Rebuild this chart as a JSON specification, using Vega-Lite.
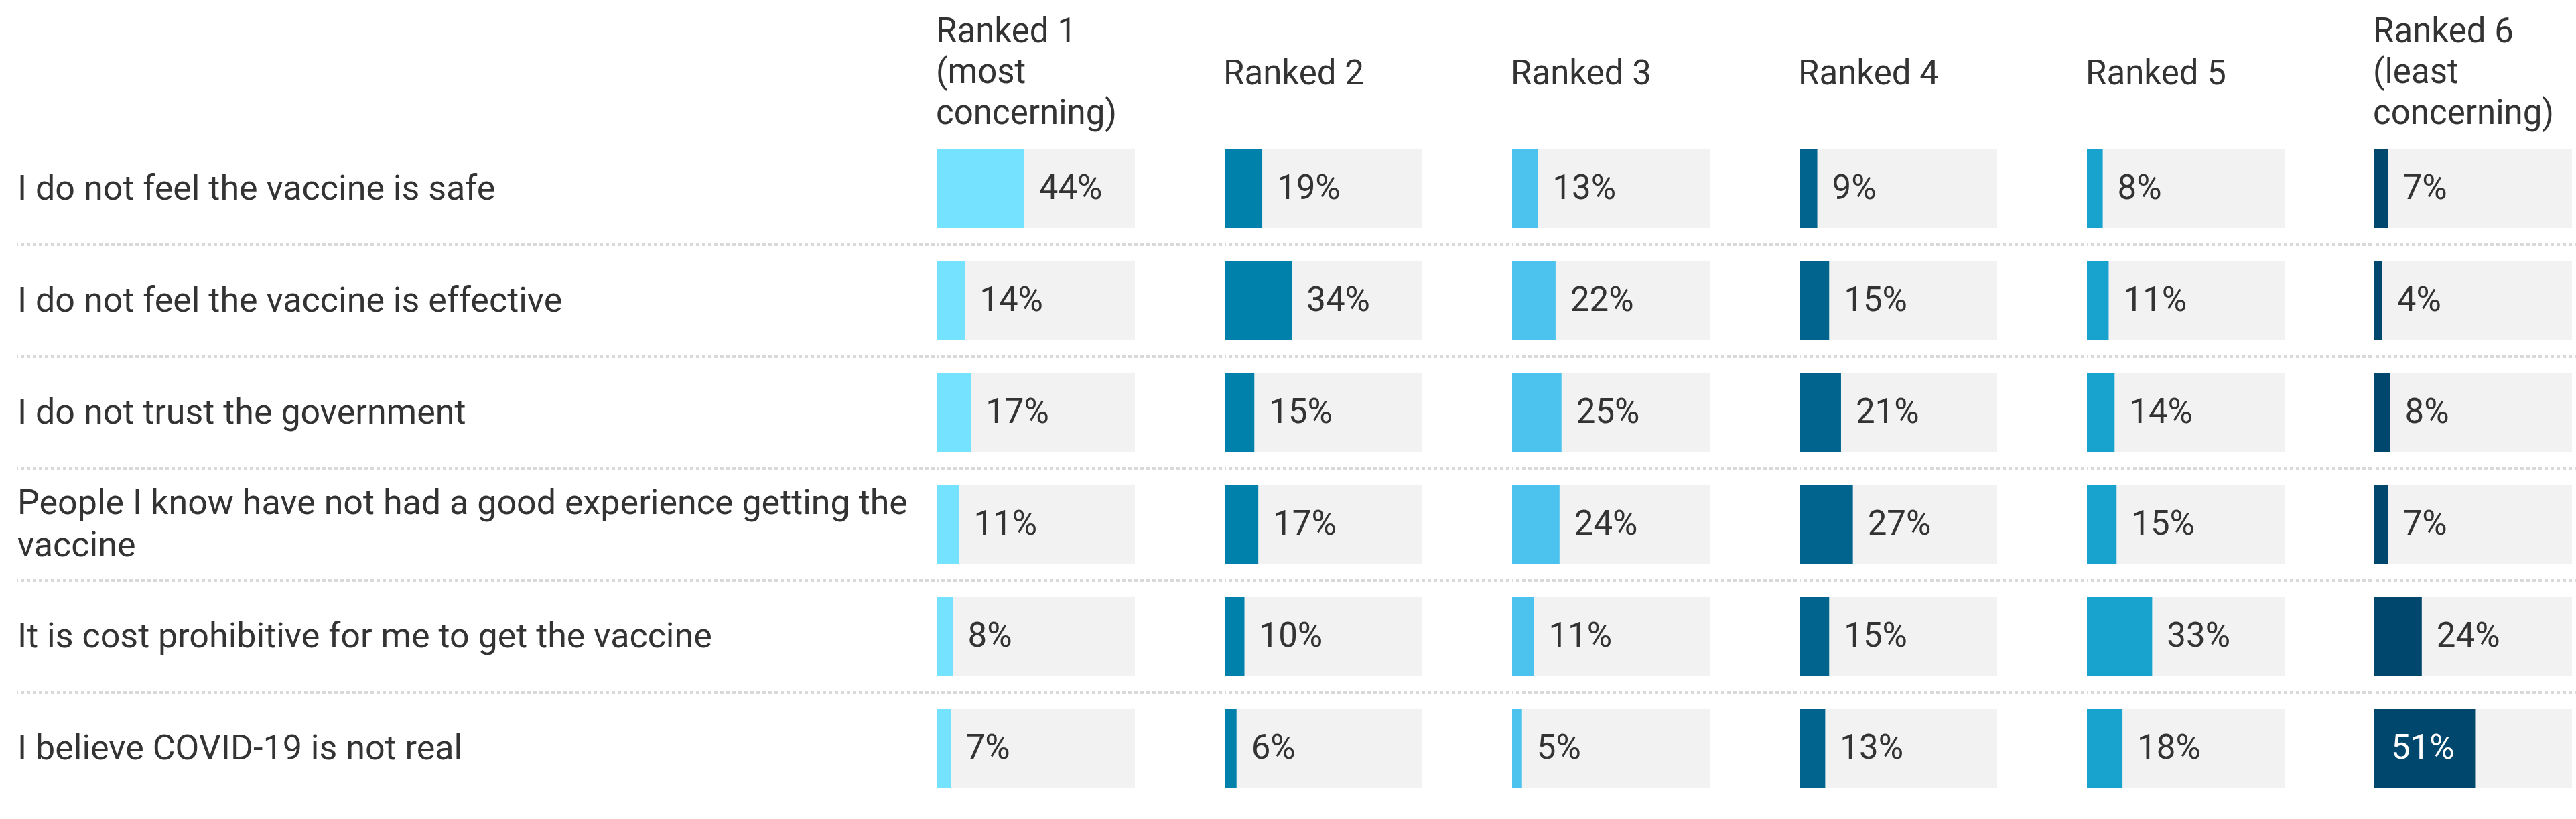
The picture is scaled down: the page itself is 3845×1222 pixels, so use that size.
{
  "$schema": "https://vega.github.io/schema/vega-lite/v6.json",
  "padding": {"left": 24, "top": 22, "right": 0, "bottom": 0},
  "background": "white",
  "spacing": 0,
  "datasets": {
    "d": [
      {"reason": "I do not feel the vaccine is safe", "rank": "Ranked 1", "value": 0.44},
      {"reason": "I do not feel the vaccine is safe", "rank": "Ranked 2", "value": 0.19},
      {"reason": "I do not feel the vaccine is safe", "rank": "Ranked 3", "value": 0.13},
      {"reason": "I do not feel the vaccine is safe", "rank": "Ranked 4", "value": 0.09},
      {"reason": "I do not feel the vaccine is safe", "rank": "Ranked 5", "value": 0.08},
      {"reason": "I do not feel the vaccine is safe", "rank": "Ranked 6", "value": 0.07},
      {"reason": "I do not feel the vaccine is effective", "rank": "Ranked 1", "value": 0.14},
      {"reason": "I do not feel the vaccine is effective", "rank": "Ranked 2", "value": 0.34},
      {"reason": "I do not feel the vaccine is effective", "rank": "Ranked 3", "value": 0.22},
      {"reason": "I do not feel the vaccine is effective", "rank": "Ranked 4", "value": 0.15},
      {"reason": "I do not feel the vaccine is effective", "rank": "Ranked 5", "value": 0.11},
      {"reason": "I do not feel the vaccine is effective", "rank": "Ranked 6", "value": 0.04},
      {"reason": "I do not trust the government", "rank": "Ranked 1", "value": 0.17},
      {"reason": "I do not trust the government", "rank": "Ranked 2", "value": 0.15},
      {"reason": "I do not trust the government", "rank": "Ranked 3", "value": 0.25},
      {"reason": "I do not trust the government", "rank": "Ranked 4", "value": 0.21},
      {"reason": "I do not trust the government", "rank": "Ranked 5", "value": 0.14},
      {"reason": "I do not trust the government", "rank": "Ranked 6", "value": 0.08},
      {"reason": "People I know have not had a good experience getting the\nvaccine", "rank": "Ranked 1", "value": 0.11},
      {"reason": "People I know have not had a good experience getting the\nvaccine", "rank": "Ranked 2", "value": 0.17},
      {"reason": "People I know have not had a good experience getting the\nvaccine", "rank": "Ranked 3", "value": 0.24},
      {"reason": "People I know have not had a good experience getting the\nvaccine", "rank": "Ranked 4", "value": 0.27},
      {"reason": "People I know have not had a good experience getting the\nvaccine", "rank": "Ranked 5", "value": 0.15},
      {"reason": "People I know have not had a good experience getting the\nvaccine", "rank": "Ranked 6", "value": 0.07},
      {"reason": "It is cost prohibitive for me to get the vaccine", "rank": "Ranked 1", "value": 0.08},
      {"reason": "It is cost prohibitive for me to get the vaccine", "rank": "Ranked 2", "value": 0.10},
      {"reason": "It is cost prohibitive for me to get the vaccine", "rank": "Ranked 3", "value": 0.11},
      {"reason": "It is cost prohibitive for me to get the vaccine", "rank": "Ranked 4", "value": 0.15},
      {"reason": "It is cost prohibitive for me to get the vaccine", "rank": "Ranked 5", "value": 0.33},
      {"reason": "It is cost prohibitive for me to get the vaccine", "rank": "Ranked 6", "value": 0.24},
      {"reason": "I believe COVID-19 is not real", "rank": "Ranked 1", "value": 0.07},
      {"reason": "I believe COVID-19 is not real", "rank": "Ranked 2", "value": 0.06},
      {"reason": "I believe COVID-19 is not real", "rank": "Ranked 3", "value": 0.05},
      {"reason": "I believe COVID-19 is not real", "rank": "Ranked 4", "value": 0.13},
      {"reason": "I believe COVID-19 is not real", "rank": "Ranked 5", "value": 0.18},
      {"reason": "I believe COVID-19 is not real", "rank": "Ranked 6", "value": 0.51}
    ]
  },
  "hconcat": [
    {
      "width": 1369, "height": 1002,
      "data": {"name": "d"},
      "transform": [{"filter": "datum.rank === 'Ranked 1'"}],
      "encoding": {"y": {"field": "reason", "type": "nominal", "axis": null, "scale": {"domain": ["I do not feel the vaccine is safe", "I do not feel the vaccine is effective", "I do not trust the government", "People I know have not had a good experience getting the\nvaccine", "It is cost prohibitive for me to get the vaccine", "I believe COVID-19 is not real"], "paddingInner": 0, "paddingOuter": 0}}},
      "layer": [
        {"mark": {"type": "rule", "color": "#d9d9d9", "strokeWidth": 4, "strokeDash": [5, 4]},
         "transform": [{"filter": "datum.reason !== 'I do not feel the vaccine is safe'"}],
         "encoding": {"y": {"field": "reason", "type": "nominal", "bandPosition": 0, "axis": null}}},
        {"mark": {"type": "text", "align": "left", "baseline": "middle", "fontSize": 52, "color": "#333333"},
         "transform": [{"filter": "datum.reason.length < 55"}],
         "encoding": {"x": {"datum": 0, "type": "quantitative", "scale": {"domain": [0, 1], "nice": false}, "axis": null}, "text": {"field": "reason"}}},
        {"mark": {"type": "text", "align": "left", "baseline": "middle", "fontSize": 52, "color": "#333333", "lineBreak": "\n", "lineHeight": 63, "dy": -31.5},
         "transform": [{"filter": "datum.reason.length >= 55"}],
         "encoding": {"x": {"datum": 0, "type": "quantitative"}, "text": {"field": "reason"}}}
      ]
    },
    {
      "width": 425, "height": 1002,
      "title": {"text": ["Ranked 1", "(most", "concerning)"], "offset": 2},
      "data": {"name": "d"},
      "transform": [{"filter": "datum.rank === 'Ranked 1'"}],
      "encoding": {"y": {"field": "reason", "type": "nominal", "axis": null, "scale": {"domain": ["I do not feel the vaccine is safe", "I do not feel the vaccine is effective", "I do not trust the government", "People I know have not had a good experience getting the\nvaccine", "It is cost prohibitive for me to get the vaccine", "I believe COVID-19 is not real"], "paddingInner": 0, "paddingOuter": 0}}},
      "layer": [
        {"mark": {"type": "rule", "color": "#d9d9d9", "strokeWidth": 4, "strokeDash": [5, 4]},
         "transform": [{"filter": "datum.reason !== 'I do not feel the vaccine is safe'"}],
         "encoding": {"y": {"field": "reason", "type": "nominal", "bandPosition": 0, "axis": null}}},
        {"mark": {"type": "bar", "color": "#f2f2f2", "height": {"band": 0.7}},
         "encoding": {"x": {"datum": 0, "type": "quantitative", "scale": {"domain": [0, 1.4407], "nice": false}, "axis": null}, "x2": {"datum": 1}}},
        {"mark": {"type": "bar", "height": {"band": 0.7}},
         "encoding": {"x": {"field": "value", "type": "quantitative"}, "x2": {"datum": 0},
           "color": {"field": "rank", "type": "nominal", "legend": null, "scale": {"domain": ["Ranked 1", "Ranked 2", "Ranked 3", "Ranked 4", "Ranked 5", "Ranked 6"], "range": ["#75e2ff", "#0081ab", "#4cc3ee", "#00648e", "#18a3cf", "#00476d"]}}}},
        {"mark": {"type": "text", "align": "left", "baseline": "middle", "dx": 22, "fontSize": 51, "color": "#333333"},
         "transform": [{"filter": "datum.value < 0.5"}],
         "encoding": {"x": {"field": "value", "type": "quantitative"}, "text": {"field": "value", "type": "quantitative", "format": ".0%"}}},
        {"mark": {"type": "text", "align": "left", "baseline": "middle", "dx": 25, "fontSize": 51, "color": "#ffffff"},
         "transform": [{"filter": "datum.value >= 0.5"}],
         "encoding": {"x": {"datum": 0, "type": "quantitative"}, "text": {"field": "value", "type": "quantitative", "format": ".0%"}}}
      ]
    },
    {
      "width": 425, "height": 1002,
      "title": {"text": ["Ranked 2"], "offset": 61},
      "data": {"name": "d"},
      "transform": [{"filter": "datum.rank === 'Ranked 2'"}],
      "encoding": {"y": {"field": "reason", "type": "nominal", "axis": null, "scale": {"domain": ["I do not feel the vaccine is safe", "I do not feel the vaccine is effective", "I do not trust the government", "People I know have not had a good experience getting the\nvaccine", "It is cost prohibitive for me to get the vaccine", "I believe COVID-19 is not real"], "paddingInner": 0, "paddingOuter": 0}}},
      "layer": [
        {"mark": {"type": "rule", "color": "#d9d9d9", "strokeWidth": 4, "strokeDash": [5, 4]},
         "transform": [{"filter": "datum.reason !== 'I do not feel the vaccine is safe'"}],
         "encoding": {"y": {"field": "reason", "type": "nominal", "bandPosition": 0, "axis": null}}},
        {"mark": {"type": "bar", "color": "#f2f2f2", "height": {"band": 0.7}},
         "encoding": {"x": {"datum": 0, "type": "quantitative", "scale": {"domain": [0, 1.4407], "nice": false}, "axis": null}, "x2": {"datum": 1}}},
        {"mark": {"type": "bar", "height": {"band": 0.7}},
         "encoding": {"x": {"field": "value", "type": "quantitative"}, "x2": {"datum": 0},
           "color": {"field": "rank", "type": "nominal", "legend": null}}},
        {"mark": {"type": "text", "align": "left", "baseline": "middle", "dx": 22, "fontSize": 51, "color": "#333333"},
         "transform": [{"filter": "datum.value < 0.5"}],
         "encoding": {"x": {"field": "value", "type": "quantitative"}, "text": {"field": "value", "type": "quantitative", "format": ".0%"}}},
        {"mark": {"type": "text", "align": "left", "baseline": "middle", "dx": 25, "fontSize": 51, "color": "#ffffff"},
         "transform": [{"filter": "datum.value >= 0.5"}],
         "encoding": {"x": {"datum": 0, "type": "quantitative"}, "text": {"field": "value", "type": "quantitative", "format": ".0%"}}}
      ]
    },
    {
      "width": 425, "height": 1002,
      "title": {"text": ["Ranked 3"], "offset": 61},
      "data": {"name": "d"},
      "transform": [{"filter": "datum.rank === 'Ranked 3'"}],
      "encoding": {"y": {"field": "reason", "type": "nominal", "axis": null, "scale": {"domain": ["I do not feel the vaccine is safe", "I do not feel the vaccine is effective", "I do not trust the government", "People I know have not had a good experience getting the\nvaccine", "It is cost prohibitive for me to get the vaccine", "I believe COVID-19 is not real"], "paddingInner": 0, "paddingOuter": 0}}},
      "layer": [
        {"mark": {"type": "rule", "color": "#d9d9d9", "strokeWidth": 4, "strokeDash": [5, 4]},
         "transform": [{"filter": "datum.reason !== 'I do not feel the vaccine is safe'"}],
         "encoding": {"y": {"field": "reason", "type": "nominal", "bandPosition": 0, "axis": null}}},
        {"mark": {"type": "bar", "color": "#f2f2f2", "height": {"band": 0.7}},
         "encoding": {"x": {"datum": 0, "type": "quantitative", "scale": {"domain": [0, 1.4407], "nice": false}, "axis": null}, "x2": {"datum": 1}}},
        {"mark": {"type": "bar", "height": {"band": 0.7}},
         "encoding": {"x": {"field": "value", "type": "quantitative"}, "x2": {"datum": 0},
           "color": {"field": "rank", "type": "nominal", "legend": null}}},
        {"mark": {"type": "text", "align": "left", "baseline": "middle", "dx": 22, "fontSize": 51, "color": "#333333"},
         "transform": [{"filter": "datum.value < 0.5"}],
         "encoding": {"x": {"field": "value", "type": "quantitative"}, "text": {"field": "value", "type": "quantitative", "format": ".0%"}}},
        {"mark": {"type": "text", "align": "left", "baseline": "middle", "dx": 25, "fontSize": 51, "color": "#ffffff"},
         "transform": [{"filter": "datum.value >= 0.5"}],
         "encoding": {"x": {"datum": 0, "type": "quantitative"}, "text": {"field": "value", "type": "quantitative", "format": ".0%"}}}
      ]
    },
    {
      "width": 425, "height": 1002,
      "title": {"text": ["Ranked 4"], "offset": 61},
      "data": {"name": "d"},
      "transform": [{"filter": "datum.rank === 'Ranked 4'"}],
      "encoding": {"y": {"field": "reason", "type": "nominal", "axis": null, "scale": {"domain": ["I do not feel the vaccine is safe", "I do not feel the vaccine is effective", "I do not trust the government", "People I know have not had a good experience getting the\nvaccine", "It is cost prohibitive for me to get the vaccine", "I believe COVID-19 is not real"], "paddingInner": 0, "paddingOuter": 0}}},
      "layer": [
        {"mark": {"type": "rule", "color": "#d9d9d9", "strokeWidth": 4, "strokeDash": [5, 4]},
         "transform": [{"filter": "datum.reason !== 'I do not feel the vaccine is safe'"}],
         "encoding": {"y": {"field": "reason", "type": "nominal", "bandPosition": 0, "axis": null}}},
        {"mark": {"type": "bar", "color": "#f2f2f2", "height": {"band": 0.7}},
         "encoding": {"x": {"datum": 0, "type": "quantitative", "scale": {"domain": [0, 1.4407], "nice": false}, "axis": null}, "x2": {"datum": 1}}},
        {"mark": {"type": "bar", "height": {"band": 0.7}},
         "encoding": {"x": {"field": "value", "type": "quantitative"}, "x2": {"datum": 0},
           "color": {"field": "rank", "type": "nominal", "legend": null}}},
        {"mark": {"type": "text", "align": "left", "baseline": "middle", "dx": 22, "fontSize": 51, "color": "#333333"},
         "transform": [{"filter": "datum.value < 0.5"}],
         "encoding": {"x": {"field": "value", "type": "quantitative"}, "text": {"field": "value", "type": "quantitative", "format": ".0%"}}},
        {"mark": {"type": "text", "align": "left", "baseline": "middle", "dx": 25, "fontSize": 51, "color": "#ffffff"},
         "transform": [{"filter": "datum.value >= 0.5"}],
         "encoding": {"x": {"datum": 0, "type": "quantitative"}, "text": {"field": "value", "type": "quantitative", "format": ".0%"}}}
      ]
    },
    {
      "width": 425, "height": 1002,
      "title": {"text": ["Ranked 5"], "offset": 61},
      "data": {"name": "d"},
      "transform": [{"filter": "datum.rank === 'Ranked 5'"}],
      "encoding": {"y": {"field": "reason", "type": "nominal", "axis": null, "scale": {"domain": ["I do not feel the vaccine is safe", "I do not feel the vaccine is effective", "I do not trust the government", "People I know have not had a good experience getting the\nvaccine", "It is cost prohibitive for me to get the vaccine", "I believe COVID-19 is not real"], "paddingInner": 0, "paddingOuter": 0}}},
      "layer": [
        {"mark": {"type": "rule", "color": "#d9d9d9", "strokeWidth": 4, "strokeDash": [5, 4]},
         "transform": [{"filter": "datum.reason !== 'I do not feel the vaccine is safe'"}],
         "encoding": {"y": {"field": "reason", "type": "nominal", "bandPosition": 0, "axis": null}}},
        {"mark": {"type": "bar", "color": "#f2f2f2", "height": {"band": 0.7}},
         "encoding": {"x": {"datum": 0, "type": "quantitative", "scale": {"domain": [0, 1.4407], "nice": false}, "axis": null}, "x2": {"datum": 1}}},
        {"mark": {"type": "bar", "height": {"band": 0.7}},
         "encoding": {"x": {"field": "value", "type": "quantitative"}, "x2": {"datum": 0},
           "color": {"field": "rank", "type": "nominal", "legend": null}}},
        {"mark": {"type": "text", "align": "left", "baseline": "middle", "dx": 22, "fontSize": 51, "color": "#333333"},
         "transform": [{"filter": "datum.value < 0.5"}],
         "encoding": {"x": {"field": "value", "type": "quantitative"}, "text": {"field": "value", "type": "quantitative", "format": ".0%"}}},
        {"mark": {"type": "text", "align": "left", "baseline": "middle", "dx": 25, "fontSize": 51, "color": "#ffffff"},
         "transform": [{"filter": "datum.value >= 0.5"}],
         "encoding": {"x": {"datum": 0, "type": "quantitative"}, "text": {"field": "value", "type": "quantitative", "format": ".0%"}}}
      ]
    },
    {
      "width": 313, "height": 1002,
      "title": {"text": ["Ranked 6", "(least", "concerning)"], "offset": 2},
      "data": {"name": "d"},
      "transform": [{"filter": "datum.rank === 'Ranked 6'"}],
      "encoding": {"y": {"field": "reason", "type": "nominal", "axis": null, "scale": {"domain": ["I do not feel the vaccine is safe", "I do not feel the vaccine is effective", "I do not trust the government", "People I know have not had a good experience getting the\nvaccine", "It is cost prohibitive for me to get the vaccine", "I believe COVID-19 is not real"], "paddingInner": 0, "paddingOuter": 0}}},
      "layer": [
        {"mark": {"type": "rule", "color": "#d9d9d9", "strokeWidth": 4, "strokeDash": [5, 4]},
         "transform": [{"filter": "datum.reason !== 'I do not feel the vaccine is safe'"}],
         "encoding": {"y": {"field": "reason", "type": "nominal", "bandPosition": 0, "axis": null}}},
        {"mark": {"type": "bar", "color": "#f2f2f2", "height": {"band": 0.7}},
         "encoding": {"x": {"datum": 0, "type": "quantitative", "scale": {"domain": [0, 1.061], "nice": false}, "axis": null}, "x2": {"datum": 1}}},
        {"mark": {"type": "bar", "height": {"band": 0.7}},
         "encoding": {"x": {"field": "value", "type": "quantitative"}, "x2": {"datum": 0},
           "color": {"field": "rank", "type": "nominal", "legend": null}}},
        {"mark": {"type": "text", "align": "left", "baseline": "middle", "dx": 22, "fontSize": 51, "color": "#333333"},
         "transform": [{"filter": "datum.value < 0.5"}],
         "encoding": {"x": {"field": "value", "type": "quantitative"}, "text": {"field": "value", "type": "quantitative", "format": ".0%"}}},
        {"mark": {"type": "text", "align": "left", "baseline": "middle", "dx": 25, "fontSize": 51, "color": "#ffffff"},
         "transform": [{"filter": "datum.value >= 0.5"}],
         "encoding": {"x": {"datum": 0, "type": "quantitative"}, "text": {"field": "value", "type": "quantitative", "format": ".0%"}}}
      ]
    }
  ],
  "config": {
    "font": "Roboto",
    "view": {"stroke": null},
    "title": {"fontSize": 51, "fontWeight": "normal", "color": "#333333", "anchor": "start", "lineHeight": 61, "font": "Roboto"},
    "text": {"font": "Roboto"}
  }
}
